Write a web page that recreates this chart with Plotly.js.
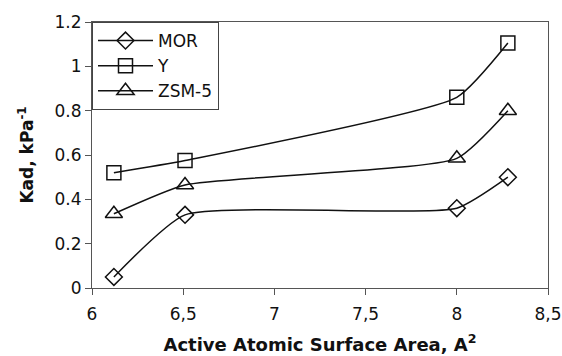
<!DOCTYPE html>
<html>
<head>
<meta charset="utf-8">
<script src="https://cdn.plot.ly/plotly-3.0.1.min.js"></script>
<style>html,body{margin:0;padding:0;background:#fff;}#chart{width:562px;height:356px;}</style>
</head>
<body>
<div id="chart"></div>
<script>
var areaX = [6.12, 6.51, 8.0, 8.28];
var seriesNames = ["MOR", "Y", "ZSM-5"];
var morValues = [0.05, 0.33, 0.36, 0.50];
var yValues = [0.52, 0.575, 0.86, 1.105];
var zsmValues = [0.335, 0.465, 0.585, 0.80];
var xTickVals = [6, 6.5, 7, 7.5, 8, 8.5];
var xTickText = ["6", "6,5", "7", "7,5", "8", "8,5"];
var yTickVals = [0, 0.2, 0.4, 0.6, 0.8, 1, 1.2];
var yTickText = ["0", "0.2", "0.4", "0.6", "0.8", "1", "1.2"];

var symbols = ["diamond-open", "square-open", "triangle-up-open"];
var sizes = [13, 14, 15];
var vals = [morValues, yValues, zsmValues];
var traces = vals.map(function(v, i) {
  return {
    x: areaX, y: v, name: seriesNames[i], type: "scatter", mode: "lines+markers",
    line: {color: "#111", width: 1.5, shape: "spline", smoothing: 0.5},
    marker: {symbol: symbols[i], size: sizes[i], color: "#111", line: {width: 1.5, color: "#111"}},
    cliponaxis: false
  };
});

var layout = {
  width: 562, height: 356,
  margin: {l: 92, r: 14, t: 22, b: 68},
  paper_bgcolor: "#fff", plot_bgcolor: "#fff",
  font: {family: "DejaVu Sans, Liberation Sans, Arial, sans-serif", color: "#111", size: 16},
  showlegend: true,
  legend: {x: 0, y: 1, xanchor: "left", yanchor: "top", bgcolor: "#fff",
           bordercolor: "#444", borderwidth: 1, font: {size: 17}, itemwidth: 55,
           tracegroupgap: 0},
  xaxis: {range: [6, 8.5], tickvals: xTickVals, ticktext: xTickText, ticks: "outside",
          ticklen: 6, tickcolor: "#555", showline: true, linecolor: "#555", mirror: true,
          showgrid: false, zeroline: false, tickfont: {size: 17}, ticklabelstandoff: 5,
          title: {text: "<b>Active Atomic Surface Area, A<sup>2</sup></b>", font: {size: 18}, standoff: 14}},
  yaxis: {range: [0, 1.2], tickvals: yTickVals, ticktext: yTickText, ticks: "outside",
          ticklen: 6, tickcolor: "#555", showline: true, linecolor: "#555", mirror: true,
          showgrid: false, zeroline: false, tickfont: {size: 17},
          title: {text: "<b>Kad, kPa<sup>-1</sup></b>", font: {size: 17}, standoff: 16}}
};
Plotly.newPlot("chart", traces, layout, {displayModeBar: false, staticPlot: true});
</script>
</body>
</html>
